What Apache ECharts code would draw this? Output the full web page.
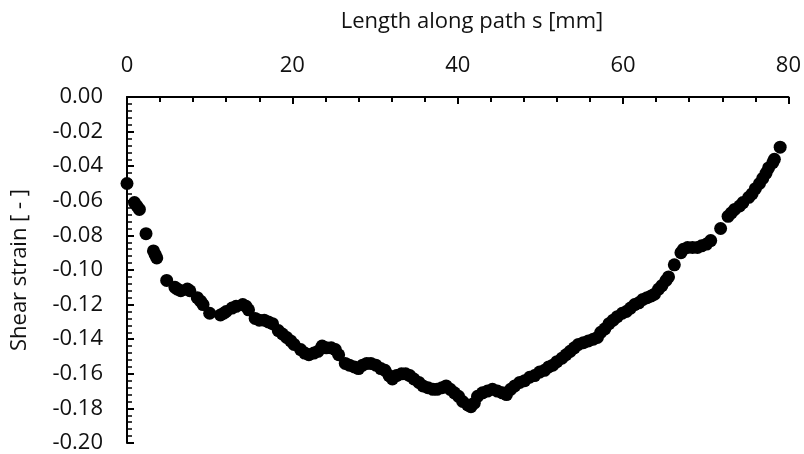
<!DOCTYPE html>
<html>
<head>
<meta charset="utf-8">
<script src="https://cdn.jsdelivr.net/npm/echarts@6/dist/echarts.min.js"></script>
<style>
  html, body { margin: 0; padding: 0; background: #fff; }
  #chart { width: 804px; height: 454px; }
</style>
</head>
<body>
<div id="chart"></div>
<script>
// length along path s [mm]
var pathLength = [
  0, 0.9, 1.2, 1.5, 2.3, 3.2, 3.4, 3.6, 4.8, 5.8, 6.1, 6.5, 7.3, 7.6, 8.5, 8.9, 9.2,
  10.0, 11.3, 11.7, 12.0, 12.7, 13.2, 14.0, 14.4, 14.7, 15.5, 16.0, 16.6, 17.1, 17.6,
  18.3, 18.8, 19.3, 19.8, 20.2, 21.0, 21.5, 22.0, 22.6, 23.1, 23.6, 24.1, 24.7, 25.2,
  25.6, 26.4, 26.9, 27.5, 28.0, 28.5, 29.0, 29.5, 30.1, 30.7, 31.2, 31.7, 32.1, 32.6,
  33.2, 33.7, 34.2, 34.7, 35.3, 35.8, 36.4, 37.0, 37.5, 38.1, 38.6, 39.1, 39.6, 40.1,
  40.6, 41.2, 41.6, 42.0, 42.4, 43.0, 43.6, 44.2, 44.8, 45.4, 45.9, 46.4, 46.9, 47.5,
  48.1, 48.7, 49.3, 49.9, 50.5, 51.0, 51.5, 52.0, 52.6, 53.1, 53.6, 54.1, 54.6, 55.2,
  55.8, 56.4, 56.9, 57.3, 57.8, 58.3, 58.8, 59.3, 59.9, 60.4, 60.9, 61.4, 61.9, 62.4,
  62.9, 63.4, 63.8, 64.3, 64.7, 65.2, 65.5, 66.2, 67.0, 67.3, 67.8, 68.4, 69.0, 69.5,
  70.1, 70.6, 71.8, 72.7, 73.1, 73.5, 74.1, 74.5, 75.2, 75.6, 76.0, 76.5, 76.9, 77.3,
  77.6, 78.1, 78.3, 79.0
];
// shear strain [-]
var shearStrain = [
  -0.050, -0.061, -0.063, -0.065, -0.079, -0.089, -0.091, -0.093, -0.106, -0.110, -0.111, -0.112, -0.111, -0.112, -0.116, -0.118, -0.120,
  -0.125, -0.126, -0.125, -0.124, -0.122, -0.121, -0.120, -0.121, -0.123, -0.128, -0.129, -0.129, -0.130, -0.131,
  -0.135, -0.137, -0.139, -0.141, -0.143, -0.146, -0.148, -0.149, -0.148, -0.147, -0.144, -0.145, -0.145, -0.146,
  -0.149, -0.154, -0.155, -0.156, -0.157, -0.155, -0.154, -0.154, -0.155, -0.157, -0.158, -0.161, -0.163, -0.161,
  -0.160, -0.160, -0.161, -0.163, -0.165, -0.167, -0.168, -0.169, -0.169, -0.168, -0.167, -0.169, -0.171, -0.173,
  -0.176, -0.178, -0.179, -0.177, -0.173, -0.171, -0.170, -0.169, -0.170, -0.171, -0.172, -0.169, -0.167, -0.165,
  -0.164, -0.162, -0.161, -0.159, -0.158, -0.156, -0.155, -0.153, -0.151, -0.149, -0.147, -0.145, -0.143, -0.142,
  -0.141, -0.140, -0.139, -0.136, -0.134, -0.131, -0.129, -0.127, -0.125, -0.124, -0.122, -0.120, -0.119, -0.117,
  -0.116, -0.115, -0.114, -0.111, -0.109, -0.106, -0.104, -0.097, -0.090, -0.088, -0.087, -0.087, -0.087, -0.086,
  -0.085, -0.083, -0.076, -0.069, -0.067, -0.065, -0.063, -0.061, -0.058, -0.056, -0.053, -0.050, -0.047, -0.044,
  -0.041, -0.038, -0.036, -0.029
];

var FONT = '"Open Sans", "Noto Sans", sans-serif';
var TXT = '#111';

var points = [];
for (var i = 0; i < pathLength.length; i++) {
  points.push([pathLength[i], shearStrain[i]]);
}

var chart = echarts.init(document.getElementById('chart'));

var option = {
  animation: false,
  backgroundColor: '#fff',
  title: {
    text: 'Length along path s [mm]',
    left: 467,
    top: 6,
    textAlign: 'center',
    textStyle: { fontFamily: FONT, fontSize: 22, fontWeight: 'normal', color: TXT }
  },
  grid: { left: 127, right: 15, top: 97, bottom: 10 },
  xAxis: {
    type: 'value',
    position: 'top',
    min: 0,
    max: 80,
    interval: 20,
    splitLine: { show: false },
    axisLine: { lineStyle: { color: '#000', width: 2 } },
    axisTick: { inside: true, length: 7, lineStyle: { color: '#000', width: 2 } },
    minorTick: { show: true, splitNumber: 5, length: 5, lineStyle: { color: '#000', width: 2 } },
    axisLabel: { margin: 20, fontFamily: FONT, fontSize: 22, color: TXT }
  },
  yAxis: {
    type: 'value',
    min: -0.2,
    max: 0,
    interval: 0.02,
    name: 'Shear strain [ - ]',
    nameLocation: 'middle',
    nameGap: 96,
    nameTextStyle: { fontFamily: FONT, fontSize: 22, color: TXT },
    splitLine: { show: false },
    axisLine: { onZero: false, lineStyle: { color: '#000', width: 2 } },
    axisTick: { inside: true, length: 7, lineStyle: { color: '#000', width: 2 } },
    minorTick: { show: true, splitNumber: 5, length: 5, lineStyle: { color: '#000', width: 1.5 } },
    axisLabel: {
      margin: 24,
      fontFamily: FONT,
      fontSize: 22,
      color: TXT,
      formatter: function (v) { return v.toFixed(2); }
    }
  },
  series: [
    {
      type: 'scatter',
      data: points,
      symbol: 'circle',
      symbolSize: 13,
      itemStyle: { color: '#000', opacity: 1 }
    }
  ]
};

chart.setOption(option);
</script>
</body>
</html>
